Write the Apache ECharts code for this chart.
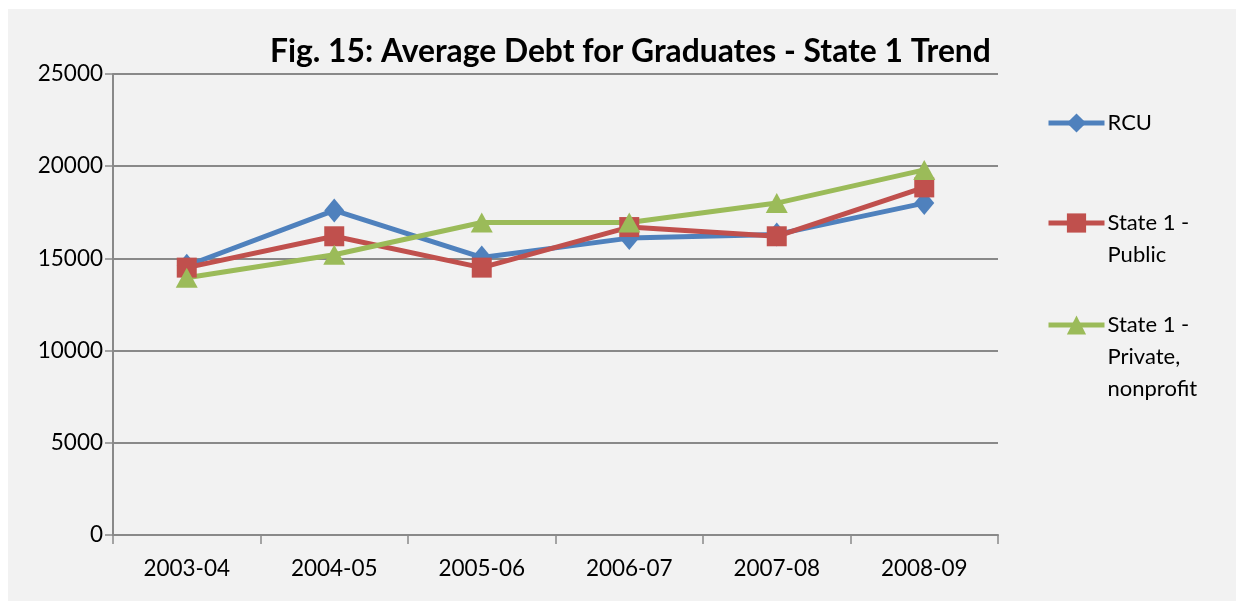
<!DOCTYPE html>
<html>
<head>
<meta charset="utf-8">
<script src="https://cdn.jsdelivr.net/npm/echarts@6/dist/echarts.min.js"></script>
<style>
  html, body { margin: 0; padding: 0; background: #ffffff; }
  #chart { position: absolute; left: 8px; top: 9px; width: 1228px; height: 592px; }
</style>
</head>
<body>
<div id="chart"></div>
<script>
// Academic years on the category axis
const years = ['2003-04', '2004-05', '2005-06', '2006-07', '2007-08', '2008-09'];

// Average debt per graduate, in dollars
const rcu = [14600, 17600, 15050, 16100, 16300, 18000];
const statePublic = [14500, 16200, 14500, 16700, 16200, 18850];
const statePrivate = [13950, 15200, 16950, 16950, 18000, 19800];

// Legend labels, wrapped the way the legend shows them
const legendLines = {
  'RCU': ['RCU'],
  'State 1 - Public': ['State 1 -', 'Public'],
  'State 1 - Private, nonprofit': ['State 1 -', 'Private,', 'nonprofit']
};

const FONT = 'Lato, "Noto Sans", sans-serif';
const LINE_H = 32;

// The legend centres its text on the icon; leading blank lines keep the
// first text line level with the icon.
function wrapLabel(name) {
  const lines = legendLines[name];
  const pad = new Array(lines.length - 1).fill(' ');
  return pad.concat(lines).join('\n');
}

function legendFor(name, top) {
  return {
    orient: 'vertical',
    left: 1038,
    top: top,
    padding: 0,
    itemWidth: 56,
    itemHeight: 24,
    itemGap: 0,
    data: [{ name: name }],
    formatter: wrapLabel,
    lineStyle: { width: 5 },
    textStyle: {
      fontFamily: FONT,
      fontSize: 22,
      color: '#000',
      lineHeight: LINE_H,
      padding: [0, 0, 0, -2]
    }
  };
}

const chart = echarts.init(document.getElementById('chart'), null, { renderer: 'canvas' });

const common = {
  type: 'line',
  lineStyle: { width: 5 },
  emphasis: { disabled: true }
};

chart.setOption({
  backgroundColor: '#f2f2f2',
  animation: false,
  title: {
    text: 'Fig. 15: Average Debt for Graduates - State 1 Trend',
    left: 262,
    top: 27,
    padding: 0,
    textStyle: { fontFamily: FONT, fontWeight: 'bold', fontSize: 31.8, color: '#000' }
  },
  legend: [
    legendFor('RCU', 98),
    legendFor('State 1 - Public', 166),
    legendFor('State 1 - Private, nonprofit', 236)
  ],
  grid: { left: 105, right: 238, top: 65, bottom: 66 },
  xAxis: {
    type: 'category',
    data: years,
    boundaryGap: true,
    axisLine: { lineStyle: { color: '#898989', width: 2 } },
    axisTick: { show: true, length: 9, lineStyle: { color: '#898989', width: 1.5 } },
    axisLabel: { fontFamily: FONT, fontSize: 22.5, color: '#000', margin: 22 }
  },
  yAxis: {
    type: 'value',
    min: 0,
    max: 25000,
    interval: 5000,
    axisLine: { show: true, lineStyle: { color: '#898989', width: 2 } },
    axisTick: { show: true, length: 8, lineStyle: { color: '#898989', width: 1.5 } },
    axisLabel: { fontFamily: FONT, fontSize: 22.5, color: '#000', margin: 10, formatter: (v) => String(v) },
    splitLine: { lineStyle: { color: '#898989', width: 2 } }
  },
  series: [
    Object.assign({}, common, {
      name: 'RCU', data: rcu, symbol: 'diamond', symbolSize: [20, 24],
      color: '#4f81bd'
    }),
    Object.assign({}, common, {
      name: 'State 1 - Public', data: statePublic, symbol: 'rect', symbolSize: 20,
      color: '#c0504d'
    }),
    Object.assign({}, common, {
      name: 'State 1 - Private, nonprofit', data: statePrivate, symbol: 'triangle', symbolSize: [22, 20],
      color: '#9bbb59'
    })
  ]
});
</script>
</body>
</html>
